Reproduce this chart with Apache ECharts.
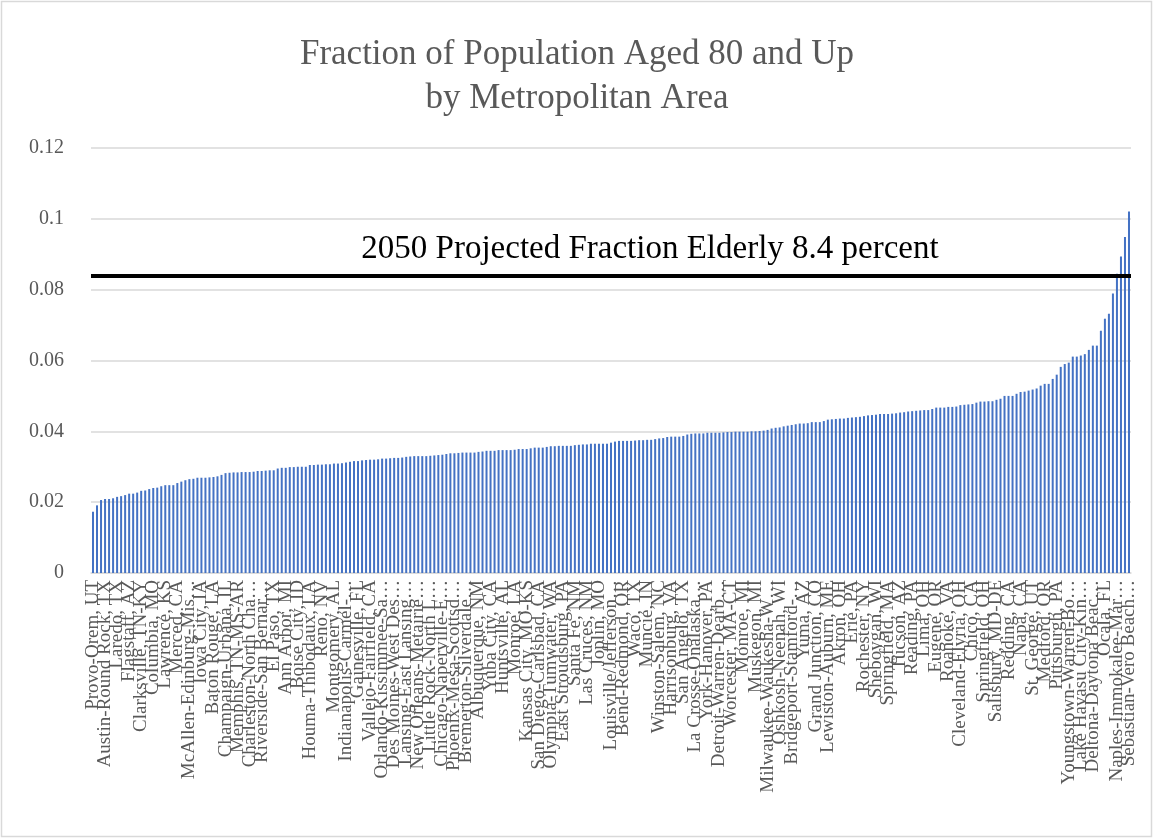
<!DOCTYPE html>
<html>
<head>
<meta charset="utf-8">
<title>Fraction of Population Aged 80 and Up by Metropolitan Area</title>
<script src="https://cdn.jsdelivr.net/npm/echarts@6/dist/echarts.min.js"></script>
<style>
  html, body { margin: 0; padding: 0; background: #ffffff; }
  #chart { width: 1154px; height: 839px; }
</style>
</head>
<body>
<div id="chart"></div>
<script>
// Share of residents aged 80+ for each metropolitan area, sorted ascending.
const shares = [
  0.0173, 0.0191, 0.0206, 0.0209, 0.0209, 0.0211, 0.0215, 0.0217, 0.0220, 0.0224,
  0.0224, 0.0227, 0.0232, 0.0233, 0.0237, 0.0240, 0.0241, 0.0245, 0.0248, 0.0248,
  0.0248, 0.0254, 0.0258, 0.0262, 0.0265, 0.0266, 0.0269, 0.0269, 0.0269, 0.0270,
  0.0271, 0.0273, 0.0277, 0.0282, 0.0283, 0.0284, 0.0284, 0.0285, 0.0285, 0.0285,
  0.0286, 0.0288, 0.0288, 0.0289, 0.0290, 0.0290, 0.0295, 0.0297, 0.0297, 0.0299,
  0.0299, 0.0300, 0.0300, 0.0300, 0.0305, 0.0305, 0.0306, 0.0306, 0.0307, 0.0307,
  0.0309, 0.0309, 0.0310, 0.0312, 0.0314, 0.0316, 0.0316, 0.0318, 0.0319, 0.0320,
  0.0320, 0.0321, 0.0323, 0.0323, 0.0324, 0.0325, 0.0325, 0.0326, 0.0328, 0.0329,
  0.0330, 0.0330, 0.0330, 0.0330, 0.0331, 0.0332, 0.0333, 0.0334, 0.0336, 0.0338,
  0.0338, 0.0339, 0.0340, 0.0340, 0.0340, 0.0340, 0.0342, 0.0343, 0.0345, 0.0345,
  0.0345, 0.0347, 0.0347, 0.0347, 0.0347, 0.0348, 0.0350, 0.0350, 0.0350, 0.0352,
  0.0354, 0.0354, 0.0354, 0.0356, 0.0358, 0.0358, 0.0359, 0.0359, 0.0359, 0.0359,
  0.0361, 0.0362, 0.0363, 0.0363, 0.0365, 0.0365, 0.0365, 0.0365, 0.0365, 0.0368,
  0.0371, 0.0373, 0.0373, 0.0373, 0.0373, 0.0374, 0.0375, 0.0375, 0.0376, 0.0376,
  0.0378, 0.0380, 0.0381, 0.0384, 0.0385, 0.0385, 0.0385, 0.0387, 0.0391, 0.0393,
  0.0394, 0.0394, 0.0394, 0.0396, 0.0396, 0.0396, 0.0396, 0.0397, 0.0398, 0.0398,
  0.0399, 0.0399, 0.0399, 0.0399, 0.0400, 0.0400, 0.0401, 0.0402, 0.0404, 0.0408,
  0.0410, 0.0411, 0.0414, 0.0416, 0.0418, 0.0420, 0.0422, 0.0422, 0.0423, 0.0426,
  0.0426, 0.0426, 0.0429, 0.0433, 0.0434, 0.0435, 0.0436, 0.0436, 0.0438, 0.0439,
  0.0440, 0.0441, 0.0443, 0.0445, 0.0446, 0.0447, 0.0449, 0.0449, 0.0449, 0.0450,
  0.0451, 0.0453, 0.0454, 0.0456, 0.0457, 0.0458, 0.0459, 0.0460, 0.0460, 0.0463,
  0.0467, 0.0467, 0.0467, 0.0469, 0.0469, 0.0470, 0.0474, 0.0475, 0.0476, 0.0477,
  0.0481, 0.0484, 0.0484, 0.0485, 0.0485, 0.0489, 0.0492, 0.0500, 0.0500, 0.0500,
  0.0506, 0.0511, 0.0512, 0.0515, 0.0518, 0.0521, 0.0529, 0.0534, 0.0534, 0.0548,
  0.0560, 0.0582, 0.0590, 0.0594, 0.0611, 0.0611, 0.0614, 0.0618, 0.0630, 0.0642,
  0.0642, 0.0684, 0.0718, 0.0732, 0.0789, 0.0845, 0.0894, 0.0949, 0.1021
];

// Area names printed under every third bar (the rest stay unlabeled).
const labeledAreas = [
  'Provo-Orem, UT', 'Austin-Round Rock, TX', 'Laredo, TX', 'Flagstaff, AZ',
  'Clarksville, TN-KY', 'Columbia, MO', 'Lawrence, KS', 'Merced, CA',
  'McAllen-Edinburg-Mis…', 'Iowa City, IA', 'Baton Rouge, LA', 'Champaign-Urbana, IL',
  'Memphis, TN-MS-AR', 'Charleston-North Cha…', 'Riverside-San Bernar…', 'El Paso, TX',
  'Ann Arbor, MI', 'Boise City, ID', 'Houma-Thibodaux, LA', 'Reno, NV',
  'Montgomery, AL', 'Indianapolis-Carmel-…', 'Gainesville, FL', 'Vallejo-Fairfield, CA',
  'Orlando-Kissimmee-Sa…', 'Des Moines-West Des…', 'Lansing-East Lansing…', 'New Orleans-Metairie…',
  'Little Rock-North L…', 'Chicago-Naperville-E…', 'Phoenix-Mesa-Scottsd…', 'Bremerton-Silverdale…',
  'Albuquerque, NM', 'Yuba City, CA', 'Huntsville, AL', 'Monroe, LA',
  'Kansas City, MO-KS', 'San Diego-Carlsbad, CA', 'Olympia-Tumwater, WA', 'East Stroudsburg, PA',
  'Santa Fe, NM', 'Las Cruces, NM', 'Joplin, MO', 'Louisville/Jefferson…',
  'Bend-Redmond, OR', 'Waco, TX', 'Muncie, IN', 'Winston-Salem, NC',
  'Harrisonburg, VA', 'San Angelo, TX', 'La Crosse-Onalaska…', 'York-Hanover, PA',
  'Detroit-Warren-Dearb…', 'Worcester, MA-CT', 'Monroe, MI', 'Muskegon, MI',
  'Milwaukee-Waukesha-W…', 'Oshkosh-Neenah, WI', 'Bridgeport-Stamford-…', 'Yuma, AZ',
  'Grand Junction, CO', 'Lewiston-Auburn, ME', 'Akron, OH', 'Erie, PA',
  'Rochester, NY', 'Sheboygan, WI', 'Springfield, MA', 'Tucson, AZ',
  'Reading, PA', 'Lima, OH', 'Eugene, OR', 'Roanoke, VA',
  'Cleveland-Elyria, OH', 'Chico, CA', 'Springfield, OH', 'Salisbury, MD-DE',
  'Redding, CA', 'Napa, CA', 'St. George, UT', 'Medford, OR',
  'Pittsburgh, PA', 'Youngstown-Warren-Bo…', 'Lake Havasu City-Kin…', 'Deltona-Daytona Beac…',
  'Ocala, FL', 'Naples-Immokalee-Mar…', 'Sebastian-Vero Beach…'
];

const yTicks = [0, 0.02, 0.04, 0.06, 0.08, 0.1, 0.12];
const projected2050 = 0.084;
const LABEL_STEP = 3;

const categories = shares.map((_, i) =>
  i % LABEL_STEP === 0 ? (labeledAreas[i / LABEL_STEP] || '') : '');

const SERIF = '"Liberation Serif", "DejaVu Serif", serif';
const GREY = '#595959';

const chart = echarts.init(document.getElementById('chart'), null, { renderer: 'canvas' });

chart.setOption({
  animation: false,
  backgroundColor: '#ffffff',
  title: {
    text: 'Fraction of Population Aged 80 and Up\nby Metropolitan Area',
    left: 'center',
    top: 28,
    textStyle: {
      fontFamily: SERIF,
      fontWeight: 'normal',
      fontSize: 35,
      lineHeight: 44,
      color: GREY
    }
  },
  graphic: [{
    type: 'rect',
    silent: true,
    shape: { x: 1.5, y: 1.5, width: 1150, height: 835 },
    style: { fill: 'none', stroke: '#d9d9d9', lineWidth: 1.5 }
  }],
  grid: { left: 91, right: 23, top: 148, bottom: 266, containLabel: false },
  xAxis: {
    type: 'category',
    data: categories,
    boundaryGap: true,
    axisLine: { show: true, lineStyle: { color: '#d9d9d9', width: 1.5 } },
    axisTick: { show: false },
    axisLabel: {
      interval: 0,
      rotate: 90,
      margin: 7,
      fontFamily: SERIF,
      fontSize: 19,
      color: GREY
    }
  },
  yAxis: {
    type: 'value',
    min: yTicks[0],
    max: yTicks[yTicks.length - 1],
    interval: 0.02,
    axisLine: { show: false },
    axisTick: { show: false },
    splitLine: { lineStyle: { color: '#d9d9d9', width: 1.5 } },
    axisLabel: {
      margin: 27,
      fontFamily: SERIF,
      fontSize: 20,
      color: GREY,
      formatter: v => String(+v.toFixed(2))
    }
  },
  series: [{
    type: 'bar',
    data: shares,
    barWidth: '50%',
    itemStyle: { color: '#4472C4' },
    markLine: {
      silent: true,
      precision: 4,
      symbol: ['none', 'none'],
      lineStyle: { color: '#000000', width: 4, type: 'solid' },
      data: [{ yAxis: projected2050 }],
      label: {
        show: true,
        position: 'insideMiddleTop',
        formatter: '2050 Projected Fraction Elderly 8.4 percent',
        fontFamily: SERIF,
        fontSize: 33,
        color: '#000000',
        distance: 10,
        padding: [0, 0, 0, 78]
      }
    }
  }]
});
</script>
</body>
</html>
